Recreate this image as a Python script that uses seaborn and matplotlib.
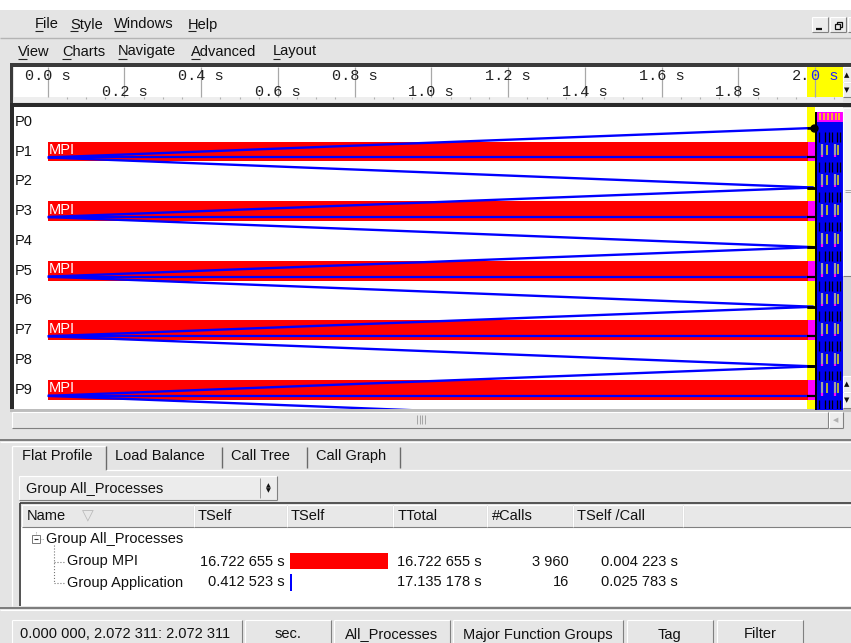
import numpy as np
import pandas as pd
import seaborn as sns
import matplotlib
matplotlib.use("Agg")
import matplotlib.pyplot as plt
from matplotlib.patches import Rectangle
from matplotlib.lines import Line2D
import matplotlib.transforms as mtrans

# ---------------- data ----------------
processes = ["P0", "P1", "P2", "P3", "P4", "P5", "P6", "P7", "P8", "P9"]
mpi_processes = ["P1", "P3", "P5", "P7", "P9"]
mpi_end = [1.981, 1.981, 1.981, 1.981, 1.981]
mpi_label = "MPI"
comm_end = 2.000
selection_start = 1.979
trace_end = 2.072311

msg_sender = [1, 1, 3, 3, 5, 5, 7, 7, 9, 9]
msg_receiver = [0, 2, 2, 4, 4, 6, 6, 8, 8, 10]
msg_send_time = [0.0, 0.0, 0.0, 0.0, 0.0, 0.0, 0.0, 0.0, 0.0, 0.0]
msg_recv_time = [1.996, 1.996, 1.996, 1.996, 1.996, 1.996, 1.996, 1.996, 1.996, 1.996]

block_black_times = [2.011, 2.025, 2.035, 2.045, 2.057, 2.066]
block_gray_times = [2.018, 2.051]
block_yellow_times = [2.031, 2.059]

ruler_top = [0.0, 0.4, 0.8, 1.2, 1.6, 2.0]
ruler_top_labels = ["0.0 s", "0.4 s", "0.8 s", "1.2 s", "1.6 s", "2.0 s"]
ruler_bottom = [0.2, 0.6, 1.0, 1.4, 1.8]
ruler_bottom_labels = ["0.2 s", "0.6 s", "1.0 s", "1.4 s", "1.8 s"]
ruler_minor = [0.05, 0.1, 0.15, 0.25, 0.3, 0.35, 0.45, 0.5, 0.55, 0.65, 0.7, 0.75,
               0.85, 0.9, 0.95, 1.05, 1.1, 1.15, 1.25, 1.3, 1.35, 1.45, 1.5, 1.55,
               1.65, 1.7, 1.75, 1.85, 1.9, 1.95, 2.05]

menu1 = ["File", "Style", "Windows", "Help"]
menu2 = ["View", "Charts", "Navigate", "Advanced", "Layout"]
tabs = ["Flat Profile", "Load Balance", "Call Tree", "Call Graph"]
dropdown_text = "Group All_Processes"
table_columns = ["Name", "TSelf", "TSelf", "TTotal", "#Calls", "TSelf /Call"]
tree_root = "Group All_Processes"
profile_groups = ["Group MPI", "Group Application"]
profile_tself = [16.722655, 0.412523]
profile_tself_text = ["16.722 655 s", "0.412 523 s"]
profile_ttotal_text = ["16.722 655 s", "17.135 178 s"]
profile_calls = ["3 960", "16"]
profile_per_call = ["0.004 223 s", "0.025 783 s"]
status_fields = ["0.000 000, 2.072 311: 2.072 311", "sec.", "All_Processes",
                 "Major Function Groups", "Tag", "Filter"]

# ---------------- figure helpers ----------------
W, H = 851, 643
sns.set_theme(style="white")
plt.rcParams["font.family"] = ["Liberation Sans", "DejaVu Sans"]
GRAY = "#e4e4e4"
DARK = "#5a5a5a"

fig = plt.figure(figsize=(W / 100, H / 100), dpi=100, facecolor=GRAY)


def fx(x):
    return x / W


def fy(y):
    return 1 - y / H


def rect(x0, y0, x1, y1, fc, ec="none", lw=0.0, z=-5):
    fig.patches.append(Rectangle((fx(x0), fy(y1)), (x1 - x0) / W, (y1 - y0) / H,
                                 transform=fig.transFigure, facecolor=fc,
                                 edgecolor=ec, linewidth=lw, zorder=z))


def line(x0, y0, x1, y1, color=DARK, lw=1.0, z=2, ls="-"):
    fig.add_artist(Line2D([fx(x0), fx(x1)], [fy(y0), fy(y1)], transform=fig.transFigure,
                          color=color, lw=lw, zorder=z, ls=ls, solid_capstyle="butt"))


def txt(x, y, s, size=10.5, ha="left", color="#111111", family=None, z=4):
    kw = {}
    if family is not None:
        kw["family"] = family
    fig.text(fx(x), fy(y), s, ha=ha, va="center", fontsize=size, color=color, zorder=z, **kw)


def raised(x0, y0, x1, y1, fc=GRAY, z=-4):
    rect(x0, y0, x1, y1, fc, z=z)
    line(x0, y0, x1, y0, "#ffffff", 0.8)
    line(x0, y0, x0, y1, "#ffffff", 0.8)
    line(x0, y1, x1, y1, "#808080", 0.8)
    line(x1, y0, x1, y1, "#808080", 0.8)


# top white strip
rect(0, 0, W, 10, "white", z=-6)

# ---------------- menu bars ----------------
menu1_x = [35, 70, 114, 188]
menu1_u = [8, 8, 12, 8]
for s, x, u in zip(menu1, menu1_x, menu1_u):
    txt(x, 24.5, s)
    line(x, 31, x + u, 31, "#222222", 0.8)
line(0, 37.5, W, 37.5, "#b4b4b4", 1.0)

menu2_x = [18, 62, 118, 191, 273]
menu2_u = [9, 9, 9, 9, 7]
for s, x, u in zip(menu2, menu2_x, menu2_u):
    txt(x, 51.5, s)
    line(x, 58.5, x + u, 58.5, "#222222", 0.8)

# window buttons
for bx0, bx1 in [(812, 828), (830, 846), (848, 858)]:
    raised(bx0, 17, bx1, 32, fc="#ececec")
line(816, 28.5, 822, 28.5, "#111111", 1.6)
rect(837, 22, 842, 27, "none", ec="#111111", lw=0.9, z=3)
rect(835, 24, 840, 29, "#ececec", ec="#111111", lw=0.9, z=3)

# ---------------- ruler ----------------
rect(10, 63, W, 67, "#3a3a3a", z=-5)
rect(10, 63, 13, 104, "#3a3a3a", z=-5)
rx0, rx1 = 14, 843
ax_r = fig.add_axes([fx(rx0), fy(102), (rx1 - rx0) / W, (102 - 67) / H])
xlim = ((rx0 - 47.7) / 383.7, (rx1 - 47.7) / 383.7)
ax_r.set_xlim(*xlim)
ax_r.set_ylim(35, 0)
ax_r.set_facecolor("white")
ax_r.axvspan(selection_start, xlim[1], ymin=5 / 35, ymax=1, color="#ffff00", lw=0, zorder=0)
ax_r.axhspan(30, 35, color="#eeeeee", lw=0, zorder=0.5)
for t in ruler_top + ruler_bottom:
    ax_r.vlines(t, 0, 30, color="#a8a8a8", lw=0.9, zorder=1)
ax_r.vlines(ruler_minor, 30, 32, color="#b0b0b0", lw=0.8, zorder=1)
cw = 0.6 * 11 * 100 / 72
off = mtrans.offset_copy(ax_r.transData, fig=fig, x=-2.5 * cw, y=0, units="dots")
off2 = mtrans.offset_copy(ax_r.transData, fig=fig, x=-0.5 * cw, y=0, units="dots")
for t, s in zip(ruler_top, ruler_top_labels):
    if t == 2.0:
        ax_r.text(t, 9, s[:2], transform=off, family="Liberation Mono", fontsize=11,
                  va="center", ha="left", color="#222222", zorder=3)
        ax_r.text(t, 9, s[2:], transform=off2, family="Liberation Mono", fontsize=11,
                  va="center", ha="left", color="#2020ff", zorder=3)
    else:
        ax_r.text(t, 9, s, transform=off, family="Liberation Mono", fontsize=11,
                  va="center", ha="left", color="#222222", zorder=3)
for t, s in zip(ruler_bottom, ruler_bottom_labels):
    ax_r.text(t, 24.5, s, transform=off, family="Liberation Mono", fontsize=11,
              va="center", ha="left", color="#222222", zorder=3)
ax_r.set_xticks([])
ax_r.set_yticks([])
for sp in ax_r.spines.values():
    sp.set_visible(False)
# ruler scroll buttons
raised(843, 67, W + 2, 82, fc="#ececec")
raised(843, 82, W + 2, 97, fc="#ececec")
txt(847, 75, "▲", size=5, ha="center", family="DejaVu Sans")
txt(847, 90, "▼", size=5, ha="center", family="DejaVu Sans")

# ---------------- timeline ----------------
rect(10, 103, W, 107, "#2a2a2a", z=-5)
rect(10, 103, 14, 410, "#2a2a2a", z=-5)
tx0, tx1, ty0, ty1 = 14, 843, 107, 409
ax = fig.add_axes([fx(tx0), fy(ty1), (tx1 - tx0) / W, (ty1 - ty0) / H])
ax.set_facecolor("white")

dur = dict(zip(mpi_processes, mpi_end))
df = pd.DataFrame({"process": processes, "duration": [dur.get(p, 0.0) for p in processes]})
sns.barplot(data=df, x="duration", y="process", order=processes, orient="h",
            color="#ff0000", saturation=1, width=0.66, errorbar=None,
            linewidth=0, ax=ax, zorder=2)

ylim = ((ty1 - 121.7) / 29.8, (ty0 - 121.7) / 29.8)
ax.set_xlim(*xlim)
ax.set_ylim(*ylim)
ax.axvspan(selection_start, comm_end, color="#ffff00", lw=0, zorder=0.5)

for p, e in zip(mpi_processes, mpi_end):
    i = processes.index(p)
    ax.barh(i, comm_end - e, left=e, height=0.66, color="#ff00ff", lw=0, zorder=2)
    ax.text(0.003, i - 0.05, mpi_label, color="white", fontsize=10.5, va="center",
            ha="left", zorder=5)
    ax.hlines(i + 0.2, 0.0, selection_start, color="#0000ff", lw=1.6, zorder=4)
    ax.hlines(i + 0.2, selection_start, comm_end, color="#000000", lw=1.6, zorder=4)

for s, r, t0, t1 in zip(msg_sender, msg_receiver, msg_send_time, msg_recv_time):
    ax.plot([t0, t1], [s + 0.2, r + 0.21], color="#0000ff", lw=1.7, zorder=4,
            solid_capstyle="butt")
    ax.hlines(r + 0.21, selection_start, comm_end, color="#000000", lw=1.8, zorder=4.5)
ax.plot([msg_recv_time[0]], [msg_receiver[0] + 0.21], "o", color="black", ms=5, zorder=5)

for i, p in enumerate(processes):
    ax.text(xlim[0] + 0.003, i, p, fontsize=10.5, va="center", ha="left",
            color="#111111", zorder=5)

# dense communication block at the end
ax.fill_betweenx([-0.33, ylim[0] + 1], comm_end, xlim[1], color="#0000f0", lw=0, zorder=3)
ax.fill_betweenx([-0.33, ylim[0] + 1], comm_end, comm_end + 0.006, color="#000000", lw=0, zorder=3.5)
ax.fill_betweenx([-0.33, 0.0], comm_end + 0.006, xlim[1], color="#ff00ff", lw=0, zorder=3.2)
ax.vlines([2.014, 2.024, 2.034, 2.044, 2.054, 2.062], -0.3, -0.05, color="#ffd700", lw=1.2, zorder=3.4)
for i in range(len(processes)):
    ax.vlines(block_black_times, i + 0.35, i + 0.68, color="#000000", lw=0.9, zorder=3.4)
    if i > 0:
        ax.vlines(block_gray_times, i - 0.25, i + 0.12, color="#a0a0a0", lw=1.6, zorder=3.4)
        ax.vlines(block_yellow_times, i - 0.22, i + 0.12, color="#e6e600", lw=1.1, zorder=3.4)
        ax.vlines(block_gray_times, i + 0.12, i + 0.2, color="#ff00ff", lw=1.6, zorder=3.4)
ax.set_xticks([])
ax.set_yticks([])
ax.set_xlabel("")
ax.set_ylabel("")
for sp in ax.spines.values():
    sp.set_visible(False)

# vertical scrollbar of timeline
rect(843, 107, W, 409, "#d8d8d8", z=-4)
raised(843, 108, W + 2, 276, fc="#f2f2f2")
line(845, 190, 851, 190, "#9a9a9a", 0.6)
line(845, 192, 851, 192, "#9a9a9a", 0.6)
raised(843, 376, W + 2, 392, fc="#ececec")
raised(843, 392, W + 2, 408, fc="#ececec")
txt(847, 384, "▲", size=5, ha="center", family="DejaVu Sans")
txt(847, 400, "▼", size=5, ha="center", family="DejaVu Sans")

# horizontal scrollbar
rect(10, 409, W, 412, "#bdbdbd", z=-5)
raised(12, 412, 828, 428, fc="#e6e6e6")
for gx in [417, 419.5, 422, 424.5]:
    line(gx, 415, gx, 424, "#9a9a9a", 0.6)
raised(829, 412, 843, 428, fc="#ececec")
txt(836, 420, "◀", size=5, ha="center", color="#b0b0b0", family="DejaVu Sans")

# ---------------- bottom panel ----------------
line(0, 440, W, 440, "#6a6a6a", 1.2)
line(0, 442, W, 442, "#ffffff", 0.8)
# tabs
line(12, 446, 106, 446, "#ffffff", 0.9)
line(12, 446, 12, 606, "#ffffff", 0.9)
line(106, 446, 106, 470, "#6a6a6a", 1.0)
tab_x = [22, 115, 231, 316]
tab_sep = [222, 307, 400]
for s, x in zip(tabs, tab_x):
    txt(x, 456, s)
for sx in tab_sep:
    line(sx, 447, sx, 468, "#6a6a6a", 1.0)
line(106, 470, W, 470, "#ffffff", 0.9)

# dropdown
raised(19, 476, 277, 500, fc="#ececec")
line(260, 478, 260, 498, "#9a9a9a", 0.7)
txt(26, 488.5, dropdown_text)
txt(268.5, 485.5, "▲", size=4.5, ha="center", family="DejaVu Sans")
txt(268.5, 491, "▼", size=4.5, ha="center", family="DejaVu Sans")

# table
rect(21, 527, W, 606, "white", z=-4)
line(20, 503, W, 503, "#3a3a3a", 1.2)
line(20, 503, 20, 606, "#3a3a3a", 1.2)
col_edges = [22, 194, 287, 393, 487, 573, 683, W + 2]
for c0, c1 in zip(col_edges[:-1], col_edges[1:]):
    raised(c0, 505, c1, 527, fc="#e8e8e8")
hdr_x = [27, 198, 291, 398, 492, 577]
for s, x in zip(table_columns, hdr_x):
    txt(x, 516.5, s)
txt(88, 516, "▽", size=11, ha="center", color="#b8b8b8", family="DejaVu Sans")

# tree
rect(32, 535, 40, 543, "white", ec="#777777", lw=0.7, z=3)
line(34, 539, 38, 539, "#333333", 0.8, z=4)
line(36, 532, 36, 535, "#777777", 0.6, ls=":")
line(40, 539, 44, 539, "#777777", 0.6, ls=":")
txt(46, 539.5, tree_root)
line(53.5, 545, 53.5, 582, "#777777", 0.8, ls=":")
row_y = [561.5, 582.5]
for y, g, ts, tt, nc, pc in zip(row_y, profile_groups, profile_tself_text,
                                profile_ttotal_text, profile_calls, profile_per_call):
    line(54, y, 64, y, "#777777", 0.8, ls=":")
    txt(67, y, g)
    txt(285, y, ts, ha="right")
    txt(397, y, tt)
    txt(569, y, nc, ha="right")
    txt(601, y, pc)

ax_p = fig.add_axes([fx(290), fy(593.0), 102 / W, (593.0 - 550.4) / H])
pdf = pd.DataFrame({"group": profile_groups, "tself": profile_tself})
sns.barplot(data=pdf, x="tself", y="group", hue="group", order=profile_groups,
            palette=["#ff0000", "#0000ff"], saturation=1, width=0.78, orient="h",
            errorbar=None, linewidth=0, legend=False, ax=ax_p)
ax_p.set_xlim(0, profile_tself[0] * 102 / 98)
ax_p.set_ylim(1.5, -0.5)
ax_p.axis("off")

line(0, 608, W, 608, "#6a6a6a", 1.2)
line(0, 610, W, 610, "#ffffff", 0.8)

# status bar
field_edges = [(12, 242), (245, 331), (334, 450), (453, 623), (627, 713), (717, 803)]
for k, ((f0, f1), s) in enumerate(zip(field_edges, status_fields)):
    raised(f0, 620, f1, 650, fc="#e6e6e6")
    if k == 0:
        txt(20, 634.5, s)
    else:
        txt((f0 + f1) / 2, 634.5, s, ha="center")

fig.savefig("out.png", dpi=100, facecolor=fig.get_facecolor())
